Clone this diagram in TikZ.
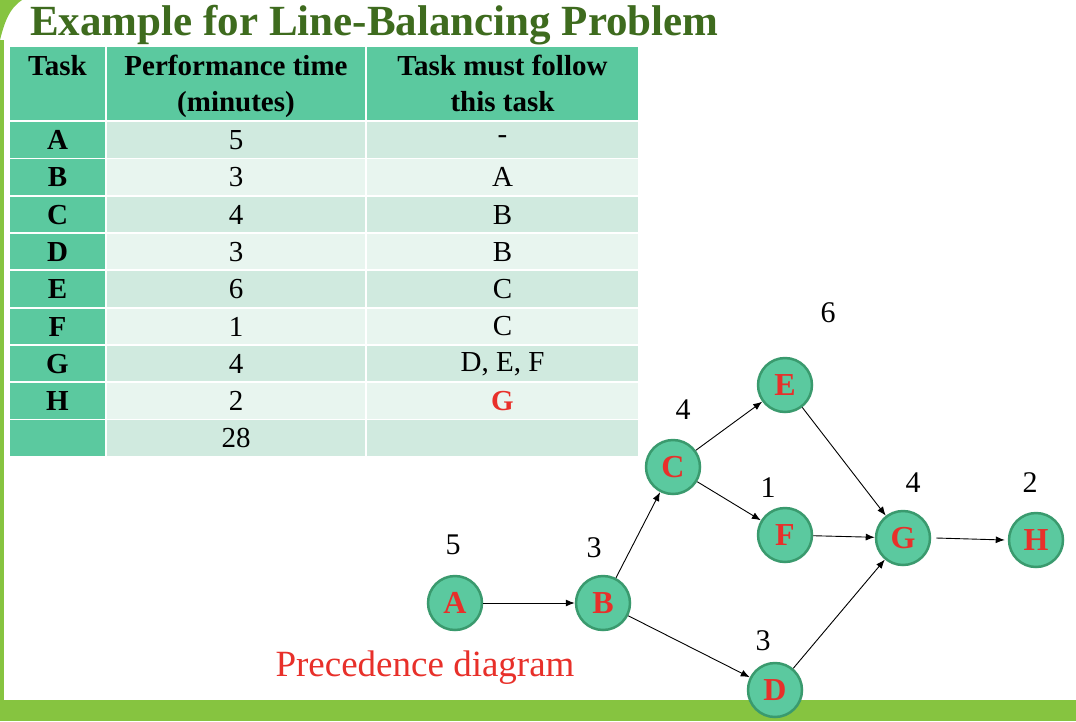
\documentclass[tikz,border=0pt]{standalone}
\usepackage{fontspec}
\setmainfont{Liberation Serif}
\usetikzlibrary{arrows.meta}
\definecolor{mint}{HTML}{5BC99F}
\definecolor{rowA}{HTML}{D0EADF}
\definecolor{rowB}{HTML}{E8F5EF}
\definecolor{ttl}{HTML}{3E6B1E}
\definecolor{bar}{HTML}{86C440}
\definecolor{nodeb}{HTML}{3A9A6E}
\definecolor{red1}{HTML}{E8302A}
\begin{document}
\begin{tikzpicture}[x=1pt,y=-1pt,
 task/.style={circle,draw=nodeb,line width=2.5pt,fill=mint,minimum size=54pt,inner sep=0pt,font=\fontsize{32}{32}\selectfont\bfseries,text=red1},
 num/.style={font=\fontsize{30}{30}\selectfont},
 cell/.style={font=\fontsize{29}{36}\selectfont},
 bcell/.style={font=\fontsize{29}{36}\selectfont\bfseries},
 arr/.style={-{Latex[length=9pt,width=7pt]},line width=0.9pt}]
\useasboundingbox (0,0) rectangle (1076,721);
\fill[white] (0,0) rectangle (1076,721);
\fill[bar] (0,700) rectangle (1076,721);
\fill[bar] (0,40) .. controls (5,20) and (10,8) .. (22,0) -- (0,0) -- cycle;
\fill[bar] (0,40) rectangle (4,700);
\node[anchor=base west,inner sep=0pt,font=\fontsize{43}{43}\selectfont\bfseries,text=ttl] (title) at (30,35) {Example for Line-Balancing Problem};
% header
\fill[mint] (10,47) rectangle (105,120);
\fill[mint] (107,47) rectangle (365,120);
\fill[mint] (367,47) rectangle (638,120);
\node[bcell,anchor=north] (h1) at (57.5,52) {Task};
\node[bcell,anchor=north,align=center] (h2) at (236,52) {Performance time\\(minutes)};
\node[bcell,anchor=north,align=center] (h3) at (502.5,52) {Task must follow\\this task};
\foreach \t/\p/\f/\i in {A/5/-/0,B/3/A/1,C/4/B/2,D/3/B/3,E/6/C/4,F/1/C/5,G/4/{D, E, F}/6,H/2/{\textcolor{red1}{\bfseries G}}/7,{}/28/{}/8}{
  \pgfmathsetmacro\yt{122+\i*37.3}
  \pgfmathsetmacro\yb{\yt+35.5}
  \pgfmathsetmacro\ym{\yt+18}
  \pgfmathtruncatemacro\odd{mod(\i,2)}
  \ifnum\odd=0 \def\rc{rowA}\else\def\rc{rowB}\fi
  \fill[mint] (10,\yt) rectangle (105,\yb);
  \fill[\rc] (107,\yt) rectangle (365,\yb);
  \fill[\rc] (367,\yt) rectangle (638,\yb);
  \node[bcell] (t\i) at (57.5,\ym) {\t};
  \node[cell] (p\i) at (236,\ym) {\p};
  \node[cell] (f\i) at (502.5,\ym) {\f};
}
% diagram
\node[task] (A) at (455,603) {A};
\node[task] (B) at (603,603) {B};
\node[task] (C) at (673,467) {C};
\node[task] (E) at (785,385) {E};
\node[task] (F) at (785,535) {F};
\node[task] (G) at (903,538) {G};
\node[task] (H) at (1036,540) {H};
\node[task] (D) at (775,690) {D};
\node[num] (nE) at (828,313) {6};
\node[num] (nC) at (683,410) {4};
\node[num] (nF) at (768,488) {1};
\node[num] (nG) at (913,483) {4};
\node[num] (nH) at (1030,483) {2};
\node[num] (nA) at (453,545) {5};
\node[num] (nB) at (594,548) {3};
\node[num] (nD) at (763,641) {3};
\node[font=\fontsize{37}{37}\selectfont,text=red1] (pd) at (425,668) {Precedence diagram};
\draw[arr] (A) -- (B);
\draw[arr] (B) -- (C);
\draw[arr] (B) -- (D);
\draw[arr] (C) -- (E);
\draw[arr] (C) -- (F);
\draw[arr] (E) -- (G);
\draw[arr] (F) -- (G);
\draw[arr] (D) -- (G);
\draw[arr] ([xshift=5pt]G.east) -- ([xshift=-3pt]H.west);
\end{tikzpicture}
\end{document}
